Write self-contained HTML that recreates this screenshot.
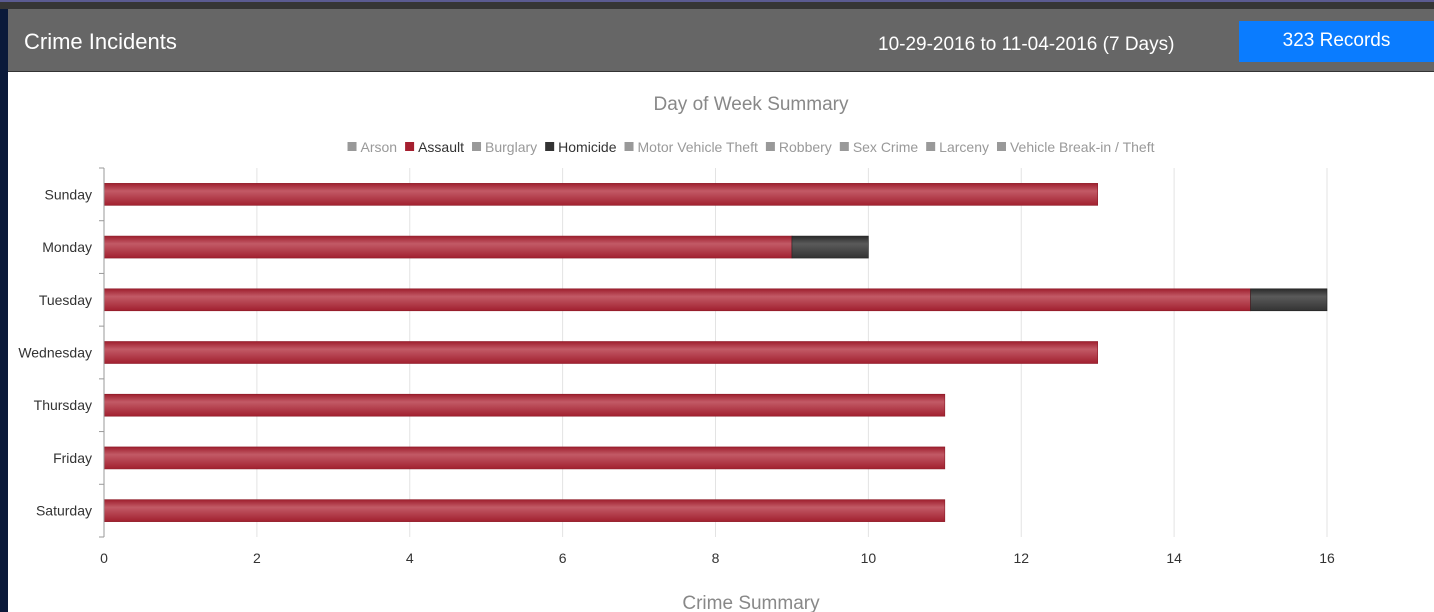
<!DOCTYPE html>
<html><head><meta charset="utf-8"><style>
body{margin:0;width:1434px;height:612px;overflow:hidden;background:#fff;font-family:"Liberation Sans","Noto Sans CJK JP",sans-serif;position:relative}
#left{position:absolute;left:0;top:0;width:8px;height:612px;background:#0b1a3a}
#topbar{position:absolute;left:0;top:0;width:1434px;height:9px;background:#353535;border-top:2px solid #5a5a90;box-sizing:border-box}
#header{position:absolute;left:8px;top:9px;width:1426px;height:62px;background:#666;border-bottom:1px solid #333}
#title{position:absolute;left:16px;top:20px;color:#fff;font-size:22px}
#range{position:absolute;left:870px;top:25px;color:#fff;font-size:19px}
#rec{position:absolute;left:1231px;top:12px;width:195px;height:41px;background:#0a7cff;color:#fff;font-size:19px;text-align:center;line-height:40px}
svg{position:absolute;left:0;top:0}
</style></head><body>
<div id="left"></div>
<div id="topbar"></div>
<div id="header">
<div id="title">Crime Incidents</div>
<div id="range">10-29-2016 to 11-04-2016 (7 Days)</div>
<div id="rec">323 Records</div>
</div>
<svg id="chart" width="1434" height="612">
<defs><linearGradient id="gr" x1="0" y1="0" x2="0" y2="1"><stop offset="0" stop-color="#9e1f2e"/><stop offset="0.35" stop-color="#c25a66"/><stop offset="1" stop-color="#a1202f"/></linearGradient>
<linearGradient id="gk" x1="0" y1="0" x2="0" y2="1"><stop offset="0" stop-color="#2a2a2a"/><stop offset="0.35" stop-color="#5a5a5a"/><stop offset="1" stop-color="#333"/></linearGradient></defs>
<text x="751" y="110" text-anchor="middle" font-size="19" fill="#888">Day of Week Summary</text>
<text x="751" y="609" text-anchor="middle" font-size="19" fill="#888">Crime Summary</text>
<g id="legend"></g><g id="grid"></g><g id="bars"></g><g id="axes"></g>
</svg>
<script>
const categories=["Sunday","Monday","Tuesday","Wednesday","Thursday","Friday","Saturday"];
const assault=[13,9,15,13,11,11,11];
const homicide=[0,1,1,0,0,0,0];
const xTicks=[0,2,4,6,8,10,12,14,16];
const legendNames=["Arson","Assault","Burglary","Homicide","Motor Vehicle Theft","Robbery","Sex Crime","Larceny","Vehicle Break-in / Theft"];
const legendColors=["#999","#a51f2f","#999","#333","#999","#999","#999","#999","#999"];
const legendText=["#999","#333","#999","#333","#999","#999","#999","#999","#999"];
const NS="http://www.w3.org/2000/svg";
const X0=104,X1=1327,XMAX=16,Y0=168,Y1=537;
const x=v=>X0+(X1-X0)*v/XMAX;
const band=(Y1-Y0)/categories.length;
const yc=i=>Y0+band*(i+0.5);
function mk(t,a,p){const e=document.createElementNS(NS,t);for(const k in a)e.setAttribute(k,a[k]);p.appendChild(e);return e;}
const G=document.getElementById('grid'),B=document.getElementById('bars'),A=document.getElementById('axes'),L=document.getElementById('legend');
xTicks.forEach(t=>{
 if(t>0){const l=mk('line',{x1:x(t),x2:x(t),y1:Y0,y2:Y1,stroke:'#e3e3e3','stroke-width':1},G);
 
 }
 const tx=mk('text',{x:x(t),y:Y1+26,'text-anchor':'middle','font-size':14,fill:'#333'},A);tx.textContent=t;
 
 
});
mk('line',{x1:X0,x2:X0,y1:Y0,y2:Y1,stroke:'#999'},A);
for(let i=0;i<=categories.length;i++){mk('line',{x1:X0-5,x2:X0,y1:Y0+band*i,y2:Y0+band*i,stroke:'#999'},A);}
categories.forEach((c,i)=>{
 const t=mk('text',{x:92,y:yc(i)+5,'text-anchor':'end','font-size':14,fill:'#333'},A);t.textContent=c;
 
 
 const h=22;
 const r=mk('rect',{x:x(0),y:yc(i)-h/2,width:x(assault[i])-x(0),height:h,fill:'url(#gr)',stroke:'#8c1a27','stroke-width':0.6},B);
 
 
 if(homicide[i]>0){const r2=mk('rect',{x:x(assault[i]),y:yc(i)-h/2,width:x(assault[i]+homicide[i])-x(assault[i]),height:h,fill:'url(#gk)',stroke:'#222','stroke-width':0.6},B);
 
 }
});
// legend
const tmp=[];let total=0;
legendNames.forEach((n,i)=>{const t=mk('text',{x:0,y:152,'font-size':14,fill:legendText[i]},L);t.textContent=n;const w=t.getComputedTextLength();tmp.push([t,w]);total+=13+w+(i<legendNames.length-1?8:0);});
let cx=751-total/2;
tmp.forEach(([t,w],i)=>{
 const s=mk('rect',{x:cx,y:142,width:9,height:9,fill:legendColors[i]},L);
 
 
 t.setAttribute('x',cx+13);
 
 
 cx+=13+w+8;
});
</script>
</body></html>
